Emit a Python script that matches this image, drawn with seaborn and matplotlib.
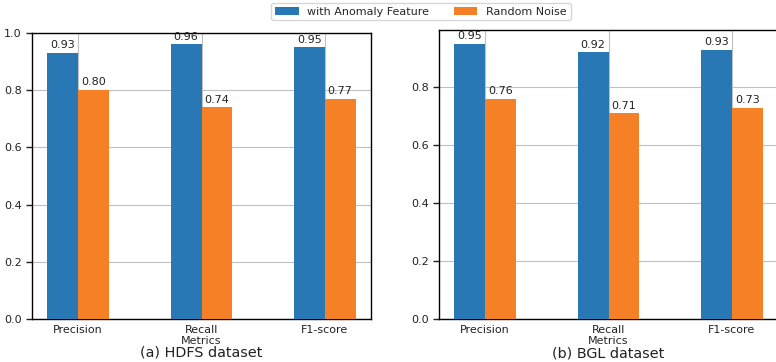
import matplotlib
matplotlib.use("Agg")
import matplotlib.pyplot as plt
import seaborn as sns
import pandas as pd

metrics = ["Precision", "Recall", "F1-score"]
series_names = ["with Anomaly Feature", "Random Noise"]

hdfs_anomaly = [0.93, 0.96, 0.95]
hdfs_noise = [0.80, 0.74, 0.77]
bgl_anomaly = [0.95, 0.92, 0.93]
bgl_noise = [0.76, 0.71, 0.73]

captions = ["(a) HDFS dataset", "(b) BGL dataset"]
colors = ["#2878b5", "#f58025"]

sns.set_style("white")
plt.rcParams["font.family"] = ["DejaVu Sans"]


def build_frame(anomaly, noise):
    return pd.DataFrame({
        "Metrics": metrics * 2,
        "Score": list(anomaly) + list(noise),
        "Setting": [series_names[0]] * 3 + [series_names[1]] * 3,
    })


fig = plt.figure(figsize=(7.76, 3.62), dpi=100)
ax_left = fig.add_axes([32 / 776, 43 / 362, 339 / 776, 286 / 362])
ax_right = fig.add_axes([439 / 776, 43 / 362, 339 / 776, 289 / 362])

panels = [
    (ax_left, build_frame(hdfs_anomaly, hdfs_noise), captions[0]),
    (ax_right, build_frame(bgl_anomaly, bgl_noise), captions[1]),
]

for i, (ax, df, caption) in enumerate(panels):
    sns.barplot(data=df, x="Metrics", y="Score", hue="Setting",
                hue_order=series_names, palette=colors, width=0.5,
                saturation=1, linewidth=0, edgecolor="none",
                ax=ax, zorder=3, legend=(i == 0))
    ax.set_axisbelow(True)
    ax.grid(True, color="#c0c0c0", linewidth=0.8)
    for container in ax.containers:
        ax.bar_label(container, fmt="%.2f", padding=2, fontsize=8,
                     color="#222222")
    ax.set_xlim(-0.375, 2.375)
    ax.set_ylabel("")
    ax.set_xlabel("Metrics", fontsize=8, labelpad=1)
    ax.tick_params(axis="both", labelsize=8, length=4, width=1,
                   colors="#222222", bottom=False, left=True)
    ax.tick_params(axis="x", pad=0)
    ax.tick_params(axis="y", direction="out")
    for s in ax.spines.values():
        s.set_color("black")
        s.set_linewidth(1.0)
    ax.text(0.5, -27 / 286, caption, transform=ax.transAxes, ha="center",
            va="top", fontsize=10.4, color="#222222")

ax_left.set_ylim(0, 1.0)
ax_right.set_ylim(0, 0.9975)
for ax in (ax_left, ax_right):
    ax.set_yticks([0.0, 0.2, 0.4, 0.6, 0.8] + ([1.0] if ax is ax_left else []))
    ax.set_yticklabels([f"{t:.1f}" for t in ax.get_yticks()])

handles, labels = ax_left.get_legend_handles_labels()
ax_left.get_legend().remove()
fig.legend(handles, labels, loc="upper center", ncol=2, fontsize=8,
           bbox_to_anchor=(421 / 776, 1.008), frameon=True, fancybox=True,
           handlelength=2.1, columnspacing=2.2, borderpad=0.35)

fig.savefig("out.png", dpi=100)
